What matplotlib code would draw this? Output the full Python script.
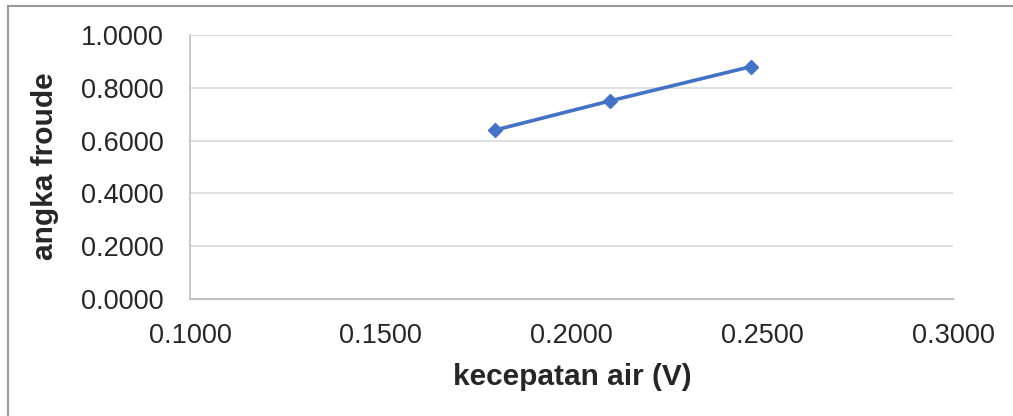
import matplotlib
matplotlib.use('Agg')
import matplotlib.pyplot as plt
from matplotlib.lines import Line2D
from matplotlib.ticker import FormatStrFormatter

# data
kecepatan = [0.18, 0.21, 0.247]
froude = [0.64, 0.75, 0.88]
x_ticks = [0.10, 0.15, 0.20, 0.25, 0.30]
y_ticks = [0.0, 0.2, 0.4, 0.6, 0.8, 1.0]

plt.rcParams['font.family'] = ['Liberation Sans', 'DejaVu Sans']

fig = plt.figure(figsize=(10.13, 4.16), dpi=100)
ax = fig.add_axes([0.1876, 0.2812, 0.7532, 0.6347])

# outer frame (top and left only show in the reference)
fig.add_artist(Line2D([8/1013, 8/1013], [0, 1 - 6/416], transform=fig.transFigure,
                      color='#999999', lw=1.5))
fig.add_artist(Line2D([8/1013, 1], [1 - 6/416, 1 - 6/416], transform=fig.transFigure,
                      color='#999999', lw=1.5))

ax.plot(kecepatan, froude, color='#4472C4', lw=2.6, marker='D', markersize=7.5,
        zorder=3)

ax.set_xlim(0.1, 0.3)
ax.set_ylim(0, 1.0)
ax.set_xticks(x_ticks)
ax.set_yticks(y_ticks)
ax.xaxis.set_major_formatter(FormatStrFormatter('%.4f'))
ax.yaxis.set_major_formatter(FormatStrFormatter('%.4f'))
ax.tick_params(axis='both', length=0, labelsize=19.5, colors='#262626')
ax.tick_params(axis='y', pad=19)
ax.tick_params(axis='x', pad=17)

ax.grid(axis='y', color='#d9d9d9', lw=1.2)
ax.set_axisbelow(True)
for s in ['top', 'right']:
    ax.spines[s].set_visible(False)
ax.spines['left'].set_color('#bfbfbf')
ax.spines['bottom'].set_color('#bfbfbf')
ax.spines['left'].set_linewidth(1.2)
ax.spines['bottom'].set_linewidth(1.5)

fig.text(45/1013, 1 - 166/416, 'angka froude', rotation=90, fontsize=21.5,
         fontweight='bold', color='#262626', ha='center', va='center')
fig.text(572/1013, 1 - 377/416, 'kecepatan air (V)', fontsize=21.5,
         fontweight='bold', color='#262626', ha='center', va='center')

fig.savefig('out.png', dpi=100)
